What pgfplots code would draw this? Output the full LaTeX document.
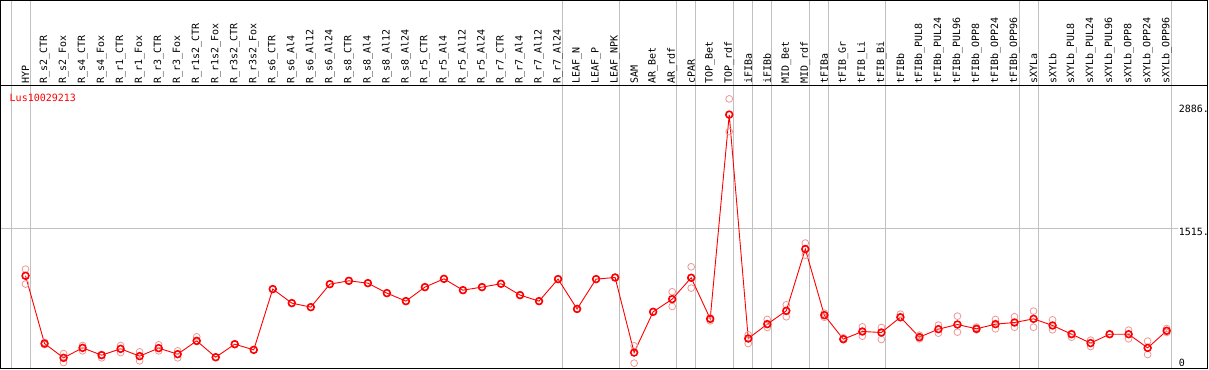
\documentclass[border=0pt]{standalone}
\usepackage{pgfplots}
\pgfplotsset{compat=1.18}
\usepackage{pgfplotstable}
\usepackage{fontspec}
\setmainfont{DejaVu Sans}
\newfontfamily\monofont{DejaVu Sans Mono}
\definecolor{mainred}{RGB}{255,0,0}
\definecolor{pinkc}{RGB}{238,150,150}
\definecolor{sepc}{RGB}{192,192,192}

\pgfplotstableread{
x m pa pb
0 991 1065 899
1 237 250 225
2 78 126 26
3 189 215 156
4 108 115 78
5 178 215 137
6 97 145 45
7 186 223 156
8 119 156 78
9 267 312 260
10 85 85 85
11 230 230 230
12 167 167 167
13 843 843 843
14 687 687 687
15 642 642 642
16 898 898 898
17 935 935 935
18 909 909 909
19 798 798 798
20 709 709 709
21 865 865 865
22 957 957 957
23 831 831 831
24 865 865 865
25 902 902 902
26 776 776 776
27 709 709 709
28 954 954 954
29 622 622 622
30 954 954 954
31 972 972 972
32 137 212 19
33 590 590 590
34 731 813 650
35 969 1091 854
36 512 520 490
37 2784 2959 2595
38 293 334 237
39 453 505 416
40 601 668 535
41 1288 1355 1221
42 553 575 530
43 286 300 280
44 371 423 319
45 360 416 282
46 530 564 525
47 308 330 290
48 397 442 353
49 449 542 364
50 401 420 390
51 453 505 401
52 471 535 419
53 512 598 419
54 438 501 390
55 341 308 350
56 242 275 204
57 341 341 341
58 341 386 290
59 189 264 115
60 379 404 360
}\data

\begin{document}
\begin{tikzpicture}
\begin{axis}[
  set layers,
  clip=false,
  scale only axis,
  width=1206pt, height=283pt,
  xmin=-1.3158, xmax=62.158,
  ymin=-44.5, ymax=3106.9,
  axis line style={black, line width=1pt},
  major tick length=0pt,
  xtick={0,...,60},
  xticklabels={HYP,R\_s2\_CTR,R\_s2\_Fox,R\_s4\_CTR,R\_s4\_Fox,R\_r1\_CTR,R\_r1\_Fox,R\_r3\_CTR,R\_r3\_Fox,R\_r1s2\_CTR,R\_r1s2\_Fox,R\_r3s2\_CTR,R\_r3s2\_Fox,R\_s6\_CTR,R\_s6\_Al4,R\_s6\_Al12,R\_s6\_Al24,R\_s8\_CTR,R\_s8\_Al4,R\_s8\_Al12,R\_s8\_Al24,R\_r5\_CTR,R\_r5\_Al4,R\_r5\_Al12,R\_r5\_Al24,R\_r7\_CTR,R\_r7\_Al4,R\_r7\_Al12,R\_r7\_Al24,LEAF\_N,LEAF\_P,LEAF\_NPK,SAM,AR\_Bet,AR\_rdf,cPAR,TOP\_Bet,TOP\_rdf,iFIBa,iFIBb,MID\_Bet,MID\_rdf,tFIBa,tFIB\_Gr,tFIB\_Li,tFIB\_Bi,tFIBb,tFIBb\_PUL8,tFIBb\_PUL24,tFIBb\_PUL96,tFIBb\_OPP8,tFIBb\_OPP24,tFIBb\_OPP96,sXYLa,sXYLb,sXYLb\_PUL8,sXYLb\_PUL24,sXYLb\_PUL96,sXYLb\_OPP8,sXYLb\_OPP24,sXYLb\_OPP96},
  xticklabel pos=upper,
  xticklabel style={rotate=90, anchor=west, inner sep=1.5pt, font=\monofont\fontsize{10}{12}\selectfont},
  ytick={0,1515,2886},
  yticklabels={\raisebox{1.4pt}[0pt][0pt]{0},\mbox{1515.},\mbox{2886.}},
  yticklabel pos=right,
  yticklabel style={anchor=west, xshift=-29pt, yshift=-3pt, inner sep=0pt, font=\monofont\fontsize{10}{12}\selectfont},
]
% header frame
\draw[black, line width=1pt] (rel axis cs:0,1) rectangle (rel axis cs:1,1.30035);
% separators
\begin{pgfonlayer}{axis background}
\pgfplotsinvokeforeach{-0.76,0.24,28.24,31.24,34.24,35.24,37.24,38.24,39.24,41.24,42.24,45.24,52.24,53.24,60.24}{
  \draw[sepc, line width=0.9pt] (axis cs:#1,-44.5) -- (axis cs:#1,4053.4);
}
\draw[sepc, line width=0.9pt] (axis cs:-1.3158,1515) -- (axis cs:60.58,1515);
\end{pgfonlayer}
% replicates
\addplot[only marks, mark=o, mark size=3.4pt, pinkc, line width=0.8pt] table[x=x, y=pa] {\data};
\addplot[only marks, mark=o, mark size=3.4pt, pinkc, line width=0.8pt] table[x=x, y=pb] {\data};
% mean line
\addplot[mainred, line width=0.9pt, mark=o, mark size=3.4pt, mark options={line width=1.6pt}] table[x=x, y=m] {\data};
\node[anchor=west, text=mainred, inner sep=0pt, font=\monofont\fontsize{10}{12}\selectfont] at (axis cs:-0.842,2973) {Lus10029213};
\end{axis}
\end{tikzpicture}
\end{document}
